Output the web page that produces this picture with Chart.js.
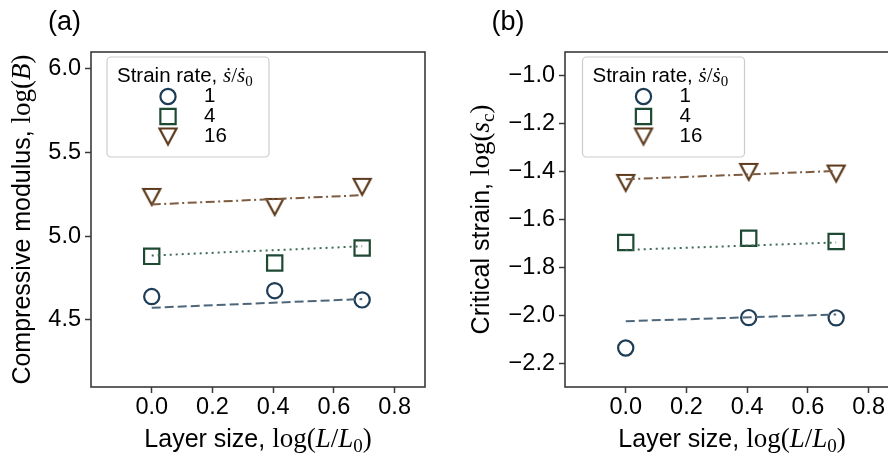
<!DOCTYPE html>
<html>
<head>
<meta charset="utf-8">
<script src="https://cdn.jsdelivr.net/npm/chart.js@4.4.1/dist/chart.umd.min.js"></script>
<style>
  html, body { margin: 0; padding: 0; background: #fff; overflow: hidden; }
  #wrap { position: relative; width: 888px; height: 457px; overflow: hidden; }
  canvas { position: absolute; top: 0; }
  #modulusChart { left: 0; }
  #strainChart { left: 444px; }
</style>
</head>
<body>
<div id="wrap">
  <canvas id="modulusChart" width="444" height="457"></canvas>
  <canvas id="strainChart" width="480" height="457"></canvas>
</div>
<script>
// layer size log(L/L0) for L/L0 = 1, 1.5, 2
const layerSize = [0, 0.405, 0.693];
const fitEnds = [0, 0.693];
const rateLabels = ['1', '4', '16'];

// (a) compressive modulus, log(B)
const modulusRate1 = [4.64, 4.675, 4.62];
const modulusRate4 = [4.88, 4.84, 4.93];
const modulusRate16 = [5.235, 5.175, 5.295];
const modulusFit1 = [4.573, 4.625];
const modulusFit4 = [4.885, 4.94];
const modulusFit16 = [5.19, 5.245];

// (b) critical strain, log(s_c)
const strainRate1 = [-2.137, -2.01, -2.011];
const strainRate4 = [-1.696, -1.678, -1.692];
const strainRate16 = [-1.447, -1.401, -1.408];
const strainFit1 = [-2.025, -1.997];
const strainFit4 = [-1.727, -1.696];
const strainFit16 = [-1.432, -1.397];

const xTicks = [0, 0.2, 0.4, 0.6, 0.8];
const modulusTicks = [4.5, 5.0, 5.5, 6.0];
const strainTicks = [-2.2, -2.0, -1.8, -1.6, -1.4, -1.2, -1.0];

const SANS = '"Liberation Sans", Arial, sans-serif';
const SERIF = '"Liberation Serif", "DejaVu Serif", serif';

const colors = {
  navy: '#1d3c56', navyLine: '#4e667a',
  green: '#1e4a34', greenLine: '#3e6b53',
  brown: '#5c3a1b', brownLine: '#7c5b40'
};

// matplotlib-style 'v' marker, centred on its bounding box
function downTriangle(color) {
  const c = document.createElement('canvas');
  c.width = 24; c.height = 24;
  const g = c.getContext('2d');
  const w = 17, h = 16;
  g.strokeStyle = color;
  g.lineWidth = 2.2;
  g.lineJoin = 'miter';
  g.beginPath();
  g.moveTo(12 - w / 2, 12 - h / 2);
  g.lineTo(12 + w / 2, 12 - h / 2);
  g.lineTo(12, 12 + h / 2);
  g.closePath();
  g.stroke();
  return c;
}

const markers = [
  { pointStyle: 'circle', radius: 7.6, color: colors.navy },
  { pointStyle: 'rect', radius: 10.8, color: colors.green },
  { pointStyle: downTriangle(colors.brown), radius: 9, color: colors.brown }
];
const fitStyles = [
  { color: colors.navyLine, dash: [9, 4] },
  { color: colors.greenLine, dash: [2, 4] },
  { color: colors.brownLine, dash: [9, 3.5, 2, 3.5] }
];

function pts(xs, ys) {
  return xs.map((x, i) => ({ x: x, y: ys[i] }));
}

function fmt(v) {
  return v.toFixed(1).replace('-', '\u2212');
}

function buildDatasets(series, fits) {
  const sets = [];
  fits.forEach((f, i) => {
    sets.push({
      data: pts(fitEnds, f),
      showLine: true,
      borderColor: fitStyles[i].color,
      borderDash: fitStyles[i].dash,
      borderWidth: 2,
      pointRadius: 0,
      fill: false
    });
  });
  series.forEach((s, i) => {
    sets.push({
      label: rateLabels[i],
      data: pts(layerSize, s),
      pointStyle: markers[i].pointStyle,
      pointRadius: markers[i].radius,
      pointBorderColor: markers[i].color,
      pointBackgroundColor: 'rgba(0,0,0,0)',
      pointBorderWidth: 2.2,
      showLine: false
    });
  });
  return sets;
}

// draw a row of text pieces (plain + math), centred or left-aligned
function drawRuns(ctx, runs, x, y, opts) {
  opts = opts || {};
  ctx.save();
  ctx.translate(x, y);
  if (opts.rotate) ctx.rotate(opts.rotate);
  let total = 0;
  runs.forEach(r => { ctx.font = r.font; r.w = ctx.measureText(r.text).width; total += r.w; });
  let cx = opts.align === 'left' ? 0 : -total / 2;
  ctx.textBaseline = 'alphabetic';
  ctx.textAlign = 'left';
  ctx.fillStyle = '#000';
  runs.forEach(r => {
    ctx.font = r.font;
    ctx.fillText(r.text, cx, r.dy || 0);
    cx += r.w;
  });
  ctx.restore();
}

const T = 25;
const M = 27;
const sans = (t, s) => ({ text: t, font: (s || T) + 'px ' + SANS });
const rm = (t, s, dy) => ({ text: t, font: (s || M) + 'px ' + SERIF, dy: dy || 0 });
const it = (t, s) => ({ text: t, font: 'italic ' + (s || M) + 'px ' + SERIF });

const xTitle = [sans('Layer size, '), rm('log('), it('L'), rm('/'), it('L'), rm('0', 19, 5), rm(')')];
const L = 20.5;
const legendTitle = [sans('Strain rate, ', L), it('\u1E61', 21), rm('/', 21), it('\u1E61', 21), rm('0', 15, 4)];

const panelDecor = {
  id: 'panelDecor',
  afterDraw(chart, args, o) {
    const ctx = chart.ctx;
    const a = chart.chartArea;

    // frame
    ctx.save();
    ctx.strokeStyle = '#3a3a3a';
    ctx.lineWidth = 1.6;
    ctx.strokeRect(a.left, a.top, a.right - a.left, a.bottom - a.top);
    ctx.restore();

    // panel letter
    ctx.save();
    ctx.font = '27px ' + SANS;
    ctx.fillStyle = '#000';
    ctx.fillText(o.letter, o.letterX, 30);
    ctx.restore();

    // axis titles
    drawRuns(ctx, xTitle, (a.left + a.right) / 2, 446.5);
    drawRuns(ctx, o.yTitle, o.yTitleX, (a.top + a.bottom) / 2, { rotate: -Math.PI / 2 });

    // legend
    const bx = a.left + o.legendX, by = a.top + 5, bw = 162, bh = 100;
    ctx.save();
    ctx.fillStyle = 'rgba(255,255,255,0.85)';
    ctx.strokeStyle = '#cccccc';
    ctx.lineWidth = 1.2;
    ctx.beginPath();
    ctx.roundRect(bx, by, bw, bh, 4);
    ctx.fill();
    ctx.stroke();
    ctx.restore();
    drawRuns(ctx, legendTitle, bx + 10, by + 25, { align: 'left' });
    markers.forEach((m, i) => {
      const my = by + 39.5 + i * 20;
      ctx.save();
      ctx.strokeStyle = m.color;
      ctx.fillStyle = 'rgba(0,0,0,0)';
      ctx.lineWidth = 2.2;
      Chart.helpers.drawPoint(ctx, { pointStyle: m.pointStyle, radius: m.radius, rotation: 0, borderWidth: 2.2 }, bx + 61, my);
      ctx.restore();
      ctx.save();
      ctx.font = L + 'px ' + SANS;
      ctx.fillStyle = '#000';
      ctx.fillText(rateLabels[i], bx + 97, by + 45 + i * 20);
      ctx.restore();
    });
  }
};

function makeChart(id, cfg) {
  return new Chart(document.getElementById(id), {
    type: 'scatter',
    data: { datasets: buildDatasets(cfg.series, cfg.fits) },
    options: {
      responsive: false,
      animation: false,
      layout: { padding: { left: 0, top: 52, right: cfg.padRight, bottom: 0 } },
      plugins: {
        legend: { display: false },
        tooltip: { enabled: false },
        panelDecor: cfg.decor
      },
      scales: {
        x: {
          type: 'linear',
          min: -0.2, max: 0.9,
          afterBuildTicks: s => { s.ticks = xTicks.map(v => ({ value: v })); },
          afterFit: s => { s.height = 70; },
          ticks: {
            callback: v => fmt(v),
            font: { family: SANS, size: 23.5 },
            color: '#000',
            padding: 0,
            maxRotation: 0,
            autoSkip: false
          },
          grid: { drawOnChartArea: false, tickLength: 6, tickColor: '#3a3a3a', tickWidth: 1.5 },
          border: { display: false }
        },
        y: {
          type: 'linear',
          min: cfg.yMin, max: cfg.yMax,
          afterBuildTicks: s => { s.ticks = cfg.yTicks.map(v => ({ value: v })); },
          afterFit: s => { s.width = cfg.yWidth; },
          ticks: {
            callback: v => fmt(v),
            font: { family: SANS, size: 23.5 },
            color: '#000',
            padding: 4,
            autoSkip: false
          },
          grid: { drawOnChartArea: false, tickLength: 6, tickColor: '#3a3a3a', tickWidth: 1.5 },
          border: { display: false }
        }
      }
    },
    plugins: [panelDecor]
  });
}

makeChart('modulusChart', {
  series: [modulusRate1, modulusRate4, modulusRate16],
  fits: [modulusFit1, modulusFit4, modulusFit16],
  yMin: 4.1, yMax: 6.1, yTicks: modulusTicks,
  yWidth: 91, padRight: 19,
  decor: {
    letter: '(a)', letterX: 48,
    yTitleX: 29.5,
    yTitle: [sans('Compressive modulus, '), rm('log('), it('B'), rm(')')],
    legendX: 16
  }
});

makeChart('strainChart', {
  series: [strainRate1, strainRate4, strainRate16],
  fits: [strainFit1, strainFit4, strainFit16],
  yMin: -2.3, yMax: -0.9, yTicks: strainTicks,
  yWidth: 121, padRight: 25,
  decor: {
    letter: '(b)', letterX: 47.5,
    yTitleX: 45,
    yTitle: [sans('Critical strain, '), rm('log('), it('s'), rm('c', 19, 5), rm(')')],
    legendX: 17.5
  }
});
</script>
</body>
</html>
